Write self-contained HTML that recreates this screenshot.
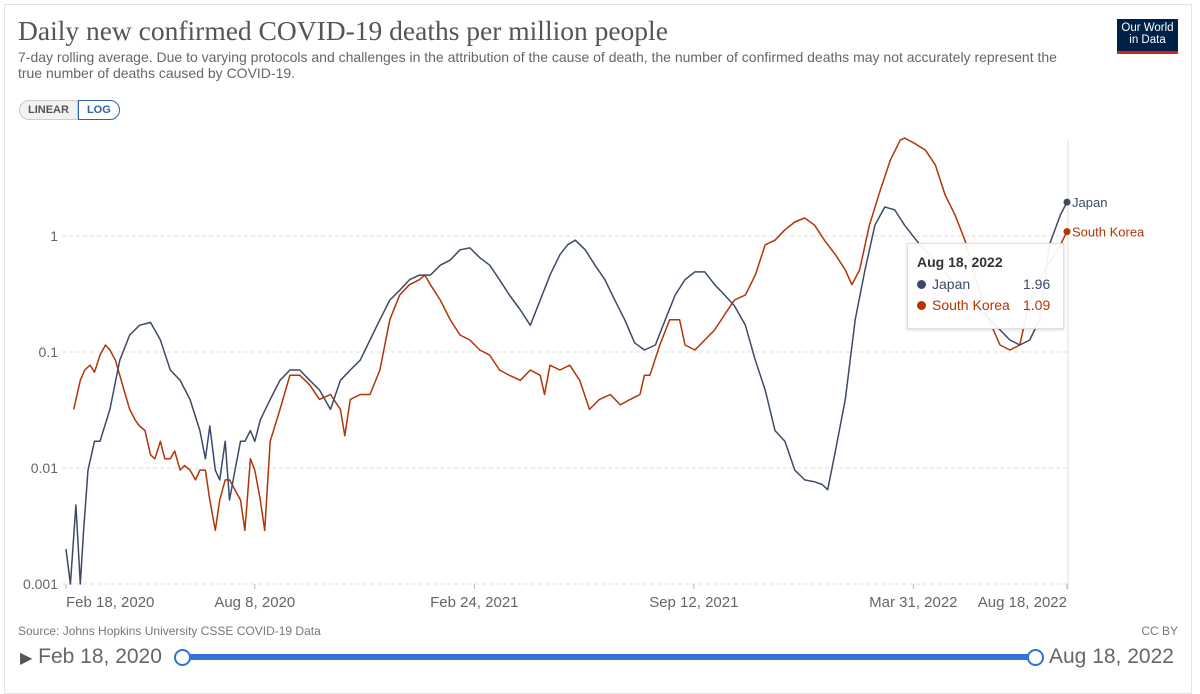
<!DOCTYPE html>
<html><head><meta charset="utf-8">
<style>
html,body{margin:0;padding:0;background:#fff;width:1200px;height:679px;overflow:hidden;font-family:"Liberation Sans",sans-serif}
.card{position:absolute;left:4px;top:4px;width:1188px;height:690px;border:1px solid #e4e4e4;box-sizing:border-box}
.title{position:absolute;left:18px;top:15px;font-family:"Liberation Serif",serif;font-size:27.5px;color:#555}
.sub{position:absolute;left:18px;top:49px;width:1045px;font-size:14px;line-height:16px;color:#666}
.logo{position:absolute;left:1117px;top:19px;width:61px;height:35px;background:#002147;color:#fff;font-size:11.5px;line-height:12px;text-align:center;box-sizing:border-box;padding-top:3px;border-bottom:3px solid #ce261e}
.btns{position:absolute;left:19px;top:100px;height:20px;display:flex;font-size:11px;font-weight:bold}
.btns div{padding:0 8px;line-height:19px;border:1px solid #ccc}
.b1{background:#f2f2f2;color:#555;border-radius:10px 0 0 10px}
.b2{color:#3360a9;border-color:#3360a9!important;border-radius:0 10px 10px 0}
.src{position:absolute;left:18px;top:624px;font-size:12px;color:#777}
.cc{position:absolute;right:22px;top:624px;font-size:12px;color:#777}
.tl{position:absolute;left:20px;top:645px;font-size:21px;color:#666}
.tr{position:absolute;left:1049px;top:645px;font-size:21px;color:#666}
</style></head><body>
<div class="card"></div>
<div class="title">Daily new confirmed COVID-19 deaths per million people</div>
<div class="sub">7-day rolling average. Due to varying protocols and challenges in the attribution of the cause of death, the number of confirmed deaths may not accurately represent the true number of deaths caused by COVID-19.</div>
<div class="logo">Our World<br>in Data</div>
<div class="btns"><div class="b1">LINEAR</div><div class="b2">LOG</div></div>
<svg id="chart" width="1200" height="679" style="position:absolute;left:0;top:0"></svg>
<div class="src">Source: Johns Hopkins University CSSE COVID-19 Data</div>
<div class="cc">CC BY</div>
<div class="tl"><span style="font-size:16px;color:#555">▶</span> Feb 18, 2020</div>
<div class="tr">Aug 18, 2022</div>
<script>
const yTicks=[1,0.1,0.01,0.001];
const yTickLabels=["1","0.1","0.01","0.001"];
const xTickDays=[0,172,372,572,772,912];
const xTickLabels=["Feb 18, 2020","Aug 8, 2020","Feb 24, 2021","Sep 12, 2021","Mar 31, 2022","Aug 18, 2022"];
const japanDays=[0,4,9,13,16,20,26,31,40,49,58,67,77,86,95,104,113,122,127,131,136,140,145,149,154,159,163,168,172,177,186,195,204,213,222,231,241,250,259,268,277,286,295,304,313,322,332,341,350,359,368,377,386,395,404,414,423,432,441,450,457,464,473,482,491,500,509,518,527,537,546,555,564,573,582,591,600,609,619,628,637,646,655,664,673,682,689,694,701,710,719,728,737,746,755,764,778,796,814,828,842,851,860,869,878,887,896,906,912];
const japanVals=[0.002,0.001,0.0048,0.001,0.0029,0.0096,0.017,0.017,0.032,0.085,0.14,0.17,0.18,0.127,0.07,0.057,0.039,0.021,0.012,0.023,0.0096,0.0079,0.017,0.0053,0.0096,0.017,0.017,0.021,0.017,0.026,0.039,0.057,0.07,0.07,0.057,0.047,0.032,0.057,0.07,0.085,0.127,0.19,0.28,0.34,0.42,0.46,0.46,0.56,0.62,0.76,0.79,0.65,0.56,0.42,0.31,0.23,0.17,0.28,0.46,0.69,0.84,0.92,0.76,0.56,0.42,0.28,0.19,0.12,0.104,0.115,0.19,0.31,0.42,0.49,0.49,0.38,0.31,0.25,0.17,0.085,0.047,0.021,0.017,0.0096,0.0079,0.0076,0.0072,0.0065,0.014,0.039,0.19,0.51,1.24,1.78,1.68,1.24,0.84,0.56,0.34,0.25,0.19,0.155,0.127,0.115,0.127,0.19,0.84,1.52,1.96];
const koreaDays=[7,13,17,22,26,31,36,40,45,49,54,58,63,67,72,77,81,86,90,95,99,104,108,113,118,122,127,131,136,140,145,149,159,163,168,172,177,181,186,195,204,213,222,231,241,250,254,259,268,277,286,295,304,313,322,327,332,341,350,359,368,377,386,395,404,414,423,432,436,441,450,459,468,477,486,496,505,514,523,527,532,541,550,559,564,573,582,591,600,609,619,628,637,646,655,664,673,682,691,701,710,716,723,732,742,751,760,764,773,783,792,801,810,819,828,837,851,860,869,878,892,906,912];
const koreaVals=[0.032,0.057,0.07,0.077,0.067,0.094,0.115,0.104,0.085,0.063,0.043,0.032,0.026,0.023,0.021,0.013,0.012,0.017,0.012,0.012,0.014,0.0096,0.0105,0.0096,0.0079,0.0096,0.0096,0.0053,0.0029,0.0053,0.0079,0.0079,0.0053,0.0029,0.012,0.0096,0.0053,0.0029,0.017,0.032,0.063,0.063,0.052,0.039,0.043,0.032,0.019,0.039,0.043,0.043,0.07,0.19,0.31,0.38,0.42,0.46,0.38,0.28,0.19,0.14,0.127,0.104,0.094,0.07,0.063,0.057,0.07,0.063,0.043,0.077,0.07,0.077,0.057,0.032,0.039,0.043,0.035,0.039,0.043,0.063,0.063,0.115,0.19,0.19,0.115,0.104,0.127,0.155,0.21,0.28,0.31,0.46,0.84,0.92,1.13,1.32,1.43,1.24,0.92,0.69,0.51,0.38,0.51,1.24,2.5,4.5,6.7,7.0,6.3,5.5,4.1,2.25,1.52,0.92,0.46,0.23,0.115,0.104,0.115,0.28,0.51,0.84,1.09];
const svg=document.getElementById('chart');
const NS='http://www.w3.org/2000/svg';
const X0=66,X1=1067,DMAX=912;
const xs=d=>X0+(X1-X0)*d/DMAX;
const ys=v=>236-116*Math.log10(v);
function mk(tag,attrs){const e=document.createElementNS(NS,tag);for(const k in attrs)e.setAttribute(k,attrs[k]);svg.appendChild(e);return e;}
yTicks.forEach((t,i)=>{
 const g=mk('line',{x1:62,x2:1067,y1:ys(t),y2:ys(t),stroke:'#ddd','stroke-dasharray':'4,3'});
 
 
 const tx=mk('text',{x:58,y:ys(t)+5,'text-anchor':'end','font-size':14,fill:'#666','font-family':'Liberation Sans, sans-serif'});
 tx.textContent=yTickLabels[i];
 
 
});
const hv=mk('line',{x1:1068,x2:1068,y1:140,y2:590,stroke:'#ddd'});


xTickDays.forEach((d,i)=>{
 const tk=mk('line',{x1:xs(d),x2:xs(d),y1:584,y2:589,stroke:'#bbb'});
 
 
 const anchor=i==0?'start':(i==xTickDays.length-1?'end':'middle');
 const tx=mk('text',{x:xs(d),y:607,'text-anchor':anchor,'font-size':15,fill:'#666','font-family':'Liberation Sans, sans-serif'});
 tx.textContent=xTickLabels[i];
 
 
});
function series(days,vals,color,name){
 const p=days.map((d,i)=>xs(d).toFixed(1)+','+ys(vals[i]).toFixed(1)).join(' ');
 const l=mk('polyline',{points:p,fill:'none',stroke:color,'stroke-width':1.5,'stroke-linejoin':'round'});
 
 
 const n=days.length-1;
 const c=mk('circle',{cx:xs(days[n]),cy:ys(vals[n]),r:3.5,fill:color});
 
 
 const t=mk('text',{x:xs(days[n])+5,y:ys(vals[n])+5,'font-size':13,fill:color,'font-family':'Liberation Sans, sans-serif'});
 t.textContent=name=='japan'?'Japan':'South Korea';
 
 
}
series(koreaDays,koreaVals,'#b13507','south-korea');
series(japanDays,japanVals,'#3c4a68','japan');
</script>
<div style="position:absolute;left:907px;top:243px;width:157px;height:86px;background:rgba(255,255,255,0.93);border:1px solid #e0e0e0;box-shadow:0 1px 3px rgba(0,0,0,0.15);font-size:14px;box-sizing:border-box;padding:10px 0 0 9px">
 <div style="font-weight:bold;color:#333;margin-bottom:6px">Aug 18, 2022</div>
 <div style="color:#3c4a68;display:flex;margin-bottom:5px"><span style="width:106px"><span style="display:inline-block;width:9px;height:9px;border-radius:50%;background:#3c4a68;margin-right:6px"></span>Japan</span><span>1.96</span></div>
 <div style="color:#b13507;display:flex"><span style="width:106px"><span style="display:inline-block;width:9px;height:9px;border-radius:50%;background:#b13507;margin-right:6px"></span>South Korea</span><span>1.09</span></div>
</div>
<div style="position:absolute;left:182px;top:654px;width:853px;height:6px;background:#3273d9;border-radius:3px"></div>
<div style="position:absolute;left:174px;top:649px;width:13px;height:13px;border:2px solid #3273d9;background:#fff;border-radius:50%"></div>
<div style="position:absolute;left:1027px;top:649px;width:13px;height:13px;border:2px solid #3273d9;background:#fff;border-radius:50%"></div>
</body></html>
